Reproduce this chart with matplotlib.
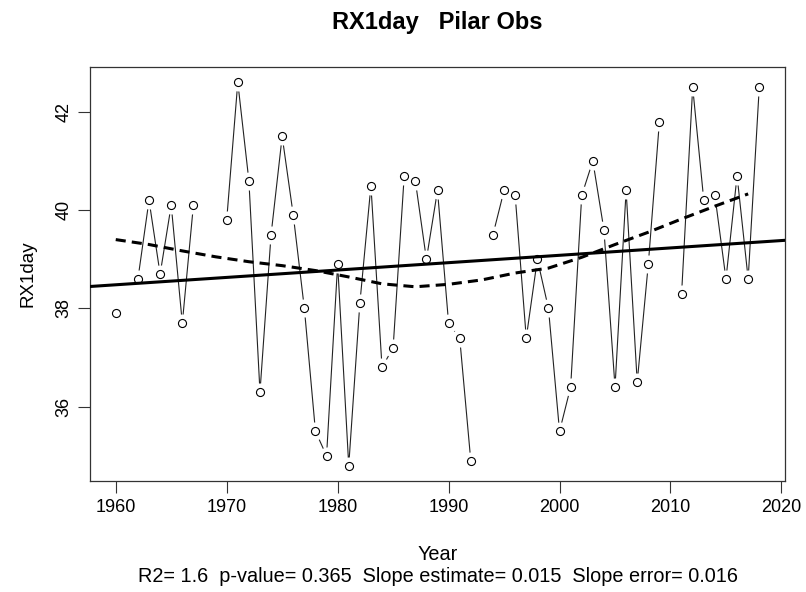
#!/usr/bin/env python3
# -*- coding: utf-8 -*-

import numpy as np
from matplotlib import pyplot as plt

plt.rcParams['font.family'] = ['Liberation Sans', 'DejaVu Sans']

# Annual maximum 1-day precipitation at Pilar (NaN = missing year)
years = list(range(1960, 2019))
rx1day = [37.9, np.nan, 38.6, 40.2, 38.7, 40.1, 37.7, 40.1, np.nan, np.nan,
          39.8, 42.6, 40.6, 36.3, 39.5, 41.5, 39.9, 38.0, 35.5, 35.0,
          38.9, 34.8, 38.1, 40.5, 36.8, 37.2, 40.7, 40.6, 39.0, 40.4,
          37.7, 37.4, 34.9, np.nan, 39.5, 40.4, 40.3, 37.4, 39.0, 38.0,
          35.5, 36.4, 40.3, 41.0, 39.6, 36.4, 40.4, 36.5, 38.9, 41.8,
          np.nan, 38.3, 42.5, 40.2, 40.3, 38.6, 40.7, 38.6, 42.5]

# Smoothed curve (dashed)
smooth_years = [1960, 1963, 1966, 1969, 1972, 1975, 1978, 1981, 1984, 1987,
                1990, 1993, 1996, 1999, 2002, 2005, 2008, 2011, 2014, 2017]
smooth_vals = [39.40, 39.30, 39.17, 39.05, 38.95, 38.87, 38.77, 38.64, 38.50, 38.44,
               38.49, 38.58, 38.72, 38.82, 39.04, 39.30, 39.55, 39.82, 40.08, 40.33]

# Trend statistics
r2 = 1.6
p_value = 0.365
slope = 0.015
slope_err = 0.016

x = np.array(years, dtype=float)
y = np.array(rx1day, dtype=float)
ok = ~np.isnan(y)

fig = plt.figure(figsize=(8.06, 5.92), dpi=100)
ax = fig.add_axes([90 / 806, 1 - 481 / 592, 695 / 806, 414 / 592])

# points joined by lines, with a small gap around each point
ax.plot(x, y, color='#222222', lw=0.8, zorder=2)
ax.plot(x[ok], y[ok], 'o', ms=13, mfc='white', mec='none', zorder=3)
ax.plot(x[ok], y[ok], 'o', ms=5.8, mfc='white', mec='black', mew=0.8, zorder=4)

# linear trend through the means
xm, ym = x[ok].mean(), y[ok].mean()
xr = np.array([1900, 2100])
ax.plot(xr, ym + slope * (xr - xm), color='black', lw=2.2, zorder=5)

ln, = ax.plot(smooth_years, smooth_vals, color='black', lw=2.2, zorder=5)
ln.set_dashes([3.3, 2.0])

# axis ranges padded by 4% like base R
xpad = 0.04 * (x[ok].max() - x[ok].min())
ypad = 0.04 * (y[ok].max() - y[ok].min())
ax.set_xlim(x[ok].min() - xpad, x[ok].max() + xpad)
ax.set_ylim(y[ok].min() - ypad, y[ok].max() + ypad)

ax.set_xticks(range(1960, 2021, 10))
ax.set_yticks([36, 38, 40, 42])
ax.tick_params(direction='out', length=8.6, width=0.8, pad=4, labelsize=13,
               color='#333333')
for lab in ax.get_yticklabels():
    lab.set_rotation(90)
    lab.set_va('center')
for s in ax.spines.values():
    s.set_linewidth(0.9)
    s.set_color('#333333')

ax.set_ylabel('RX1day', fontsize=13.5, labelpad=14)
fig.text(437.5 / 806, 1 - 22 / 592, 'RX1day   Pilar Obs', ha='center', va='center',
         fontsize=17, fontweight='bold')
fig.text(437.5 / 806, 1 - 555 / 592, 'Year', ha='center', va='center', fontsize=14.3)
fig.text(437.5 / 806, 1 - 576 / 592,
         'R2= %s  p-value= %s  Slope estimate= %s  Slope error= %s'
         % (r2, p_value, slope, slope_err),
         ha='center', va='center', fontsize=14.3)

plt.savefig('out.png', dpi=100)
